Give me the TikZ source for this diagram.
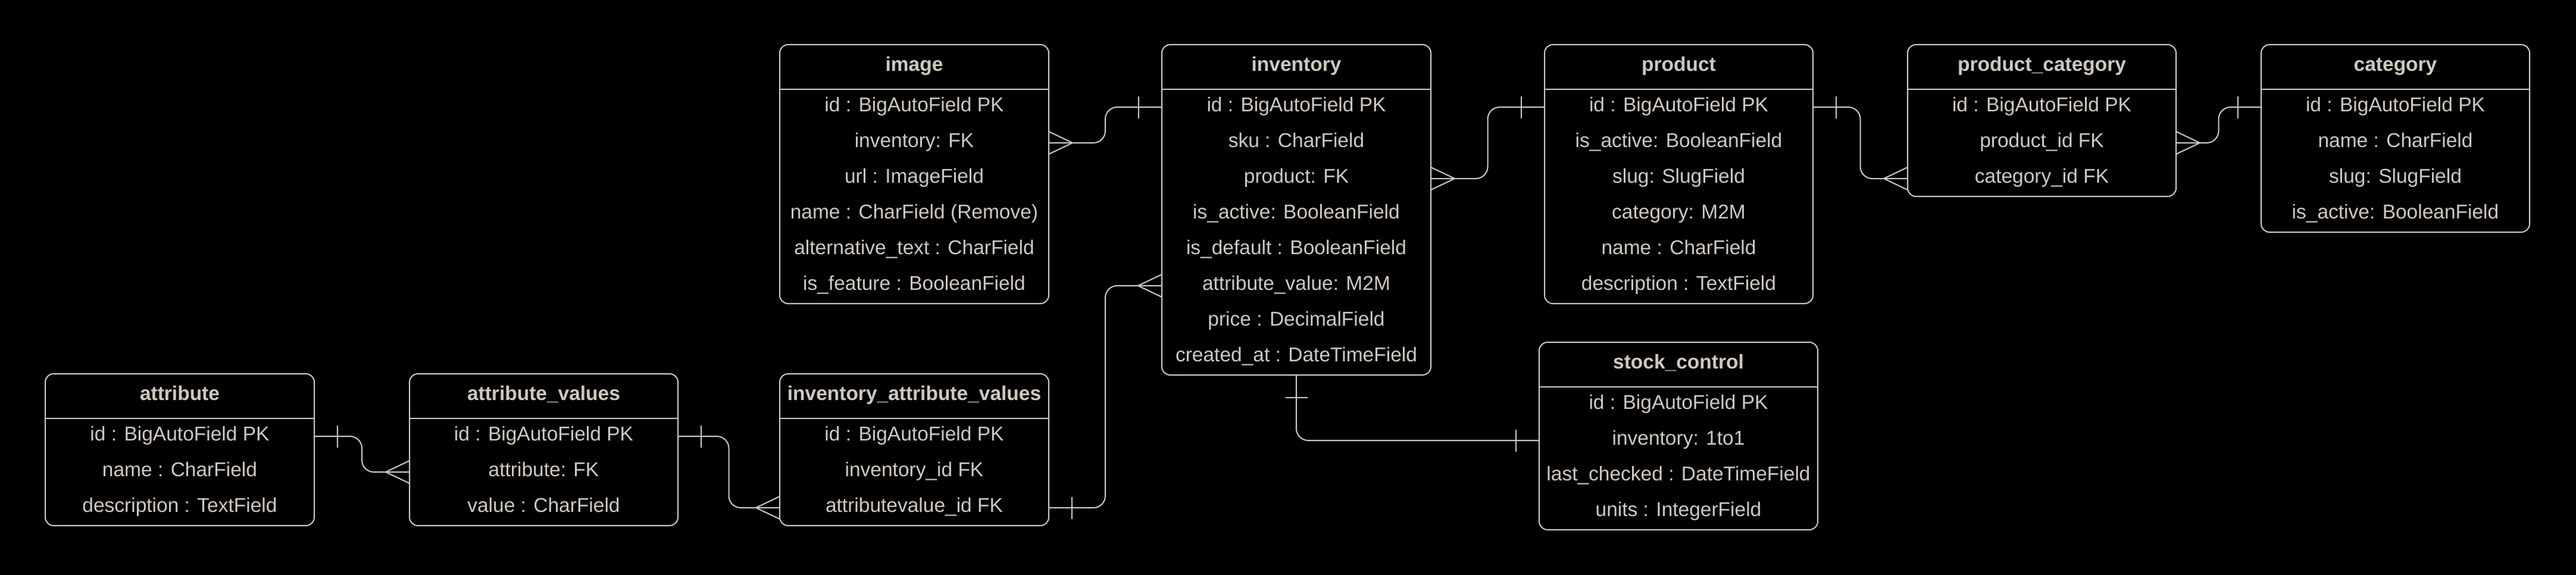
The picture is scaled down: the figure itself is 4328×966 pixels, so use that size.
\documentclass[tikz,border=0pt]{standalone}
\usepackage{fontspec}
\setmainfont{Liberation Sans}
\usetikzlibrary{calc}
\definecolor{erc}{RGB}{206,201,192}
\tikzset{
  erframe/.style={draw=erc, line width=2pt, rounded corners=14pt, rectangle, inner sep=0pt, outer sep=0pt},
  erline/.style={draw=erc, line width=2pt},
  conn/.style={draw=erc, line width=2pt, rounded corners=20pt},
  ertext/.style={text=erc, inner sep=0pt, outer sep=0pt, text height=24pt, text depth=10pt, font=\fontsize{33.5pt}{40pt}\selectfont},
  ertitle/.style={ertext, minimum height=75pt, font=\fontsize{33.5pt}{40pt}\selectfont\bfseries},
  errow/.style={ertext, minimum height=60pt},
}
\newcommand{\erbox}[6]{%
  \foreach \r [count=\k] in {#6} {\xdef\ernrows{\k}}%
  \pgfmathsetmacro{\erh}{75+60*\ernrows}%
  \node[erframe, minimum width=#4pt, minimum height=\erh pt, anchor=north west] (#1) at (#2,-#3) {};
  \draw[erline] ($(#1.north west)+(0,-75)$) -- ($(#1.north east)+(0,-75)$);
  \node[ertitle, minimum width=#4pt, anchor=north] (#1-h) at (#1.north) {#5};
  \foreach \r [count=\k] in {#6} {%
    \pgfmathsetmacro{\ery}{-75-60*(\k-1)}%
    \node[errow, minimum width=#4pt, anchor=north] (#1-\k) at ($(#1.north)+(0,\ery)$) {\r};
  }%
}
\newcommand{\erlink}[3]{%
  \coordinate (#3) at ($(#1)!0.5!(#2)$);
  \draw[conn] (#1) -- (#1 -| #3) -- (#3 |- #2) -- (#2);
}
\newcommand{\onebar}[2]{\draw[erline] ($(#1)+({#2*39},-18.5)$) -- ($(#1)+({#2*39},18.5)$);}
\newcommand{\crow}[2]{\draw[erline] ($(#1)+(0,19)$) -- ($(#1)+({#2*40},0)$) -- ($(#1)+(0,-19)$);}
\begin{document}
\begin{tikzpicture}[x=1pt,y=1pt]
\fill[black] (0,0) rectangle (4328,-966);
\useasboundingbox (0,0) rectangle (4328,-966);

\erbox{image}{1310}{75}{452}{image}{id : BigAutoField PK,inventory: FK,url : ImageField,name : CharField (Remove),alternative\_text : CharField,is\_feature : BooleanField}
\erbox{inventory}{1952}{75}{452}{inventory}{id : BigAutoField PK,sku : CharField,product: FK,is\_active: BooleanField,is\_default : BooleanField,attribute\_value: M2M,price : DecimalField,created\_at : DateTimeField}
\erbox{product}{2595}{75}{451}{product}{id : BigAutoField PK,is\_active: BooleanField,slug: SlugField,category: M2M,name : CharField,description : TextField}
\erbox{pcat}{3205}{75}{451}{product\_category}{id : BigAutoField PK,product\_id FK,category\_id FK}
\erbox{cat}{3799}{75}{451}{category}{id : BigAutoField PK,name : CharField,slug: SlugField,is\_active: BooleanField}
\erbox{stock}{2586}{575}{468}{stock\_control}{id : BigAutoField PK,inventory: 1to1,last\_checked : DateTimeField,units : IntegerField}
\erbox{attr}{76}{628}{452}{attribute}{id : BigAutoField PK,name : CharField,description : TextField}
\erbox{attrval}{688}{628}{451}{attribute\_values}{id : BigAutoField PK,attribute: FK,value : CharField}
\erbox{iav}{1310}{628}{452}{inventory\_attribute\_values}{id : BigAutoField PK,inventory\_id FK,attributevalue\_id FK}

% image -> inventory
\erlink{image-2.east}{inventory-1.west}{m1}
\crow{image-2.east}{1}
\onebar{inventory-1.west}{-1}
% inventory -> product
\erlink{inventory-3.east}{product-1.west}{m2}
\crow{inventory-3.east}{1}
\onebar{product-1.west}{-1}
% product -> product_category
\erlink{product-1.east}{pcat-3.west}{m3}
\onebar{product-1.east}{1}
\crow{pcat-3.west}{-1}
% product_category -> category
\erlink{pcat-2.east}{cat-1.west}{m4}
\crow{pcat-2.east}{1}
\onebar{cat-1.west}{-1}
% attribute -> attribute_values
\erlink{attr-1.east}{attrval-2.west}{m5}
\onebar{attr-1.east}{1}
\crow{attrval-2.west}{-1}
% attribute_values -> inventory_attribute_values
\erlink{attrval-1.east}{iav-3.west}{m6}
\onebar{attrval-1.east}{1}
\crow{iav-3.west}{-1}
% inventory_attribute_values -> inventory
\erlink{iav-3.east}{inventory-6.west}{m7}
\onebar{iav-3.east}{1}
\crow{inventory-6.west}{-1}
% inventory -> stock_control
\draw[conn] (inventory.south) |- (stock-2.west);
\draw[erline] ($(inventory.south)+(-18.5,-38)$) -- ($(inventory.south)+(18.5,-38)$);
\onebar{stock-2.west}{-1}
\end{tikzpicture}
\end{document}
